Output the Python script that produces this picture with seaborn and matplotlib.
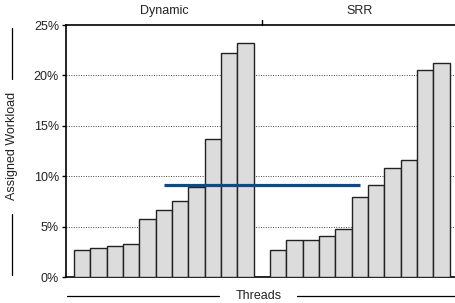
import numpy as np
import pandas as pd
import matplotlib
matplotlib.use("Agg")
import matplotlib.pyplot as plt
from matplotlib.lines import Line2D
import seaborn as sns

# workload share per thread (%), sorted, for each scheduler
groups = ["Dynamic", "SRR"]
dynamic = [2.7, 2.9, 3.05, 3.3, 5.8, 6.6, 7.55, 8.9, 13.7, 22.25, 23.2]
srr = [2.7, 3.7, 3.7, 4.05, 4.75, 7.9, 9.15, 10.8, 11.65, 20.5, 21.2]
ideal = 100 / 11  # even share
yticks = [0, 5, 10, 15, 20, 25]

n = len(dynamic)
df = pd.DataFrame({
    "pos": list(range(n)) + list(range(n + 1, 2 * n + 1)),
    "share": dynamic + srr,
    "group": ["Dynamic"] * n + ["SRR"] * n,
})

sns.set_style("white")
plt.rcParams["font.family"] = ["Liberation Sans", "DejaVu Sans"]
fs = 9

fig = plt.figure(figsize=(4.55, 3.03), dpi=100)
ax = fig.add_axes([66 / 455, 1 - 277 / 303, 1 - 66 / 455, (277 - 25) / 303])

sns.barplot(data=df, x="pos", y="share", native_scale=True, width=1,
            color="#dcdcdc", saturation=1, edgecolor="#222222", linewidth=1,
            ax=ax, zorder=3)

ax.plot([5, 17], [ideal, ideal], color="#0b4a8b", lw=2.3, zorder=4,
        solid_capstyle="butt")

ax.set_xlim(-0.99, 22.83)
ax.set_ylim(0, 25)
ax.set_yticks(yticks)
ax.set_yticklabels([f"{t}%" for t in yticks], fontsize=fs, color="#222")
ax.set_xticks([])
ax.set_xlabel("")
ax.set_ylabel("")
for t in yticks[1:-1]:
    ax.axhline(t, color="#444", lw=0.7, ls=(0, (1, 1.5)), zorder=1)

ax.tick_params(axis="y", left=True, length=3, width=1, pad=2, color="black")
ax.spines["right"].set_visible(False)
for s in ["left", "top", "bottom"]:
    ax.spines[s].set_color("black")
    ax.spines[s].set_linewidth(1.2)

# group titles and separator tick
ax.text(5, 25.8, groups[0], ha="center", va="bottom", fontsize=fs, color="#222")
ax.text(17, 25.8, groups[1], ha="center", va="bottom", fontsize=fs, color="#222")
ax.plot([11, 11], [25, 25.5], color="black", lw=1, clip_on=False)

# axis labels with side rules
fig.text(259 / 455, 1 - 296 / 303, "Threads", ha="center", va="center",
         fontsize=fs, color="#222")
fig.add_artist(Line2D([67 / 455, 219 / 455], [1 - 296 / 303] * 2, color="black", lw=0.9))
fig.add_artist(Line2D([297 / 455, 455 / 455], [1 - 296 / 303] * 2, color="black", lw=0.9))

fig.text(12 / 455, 1 - 146 / 303, "Assigned Workload", ha="center", va="center",
         rotation=90, fontsize=fs, color="#222")
fig.add_artist(Line2D([12 / 455] * 2, [1 - 28 / 303, 1 - 79 / 303], color="black", lw=0.9))
fig.add_artist(Line2D([12 / 455] * 2, [1 - 214 / 303, 1 - 275 / 303], color="black", lw=0.9))

fig.savefig("out.png", dpi=100)
